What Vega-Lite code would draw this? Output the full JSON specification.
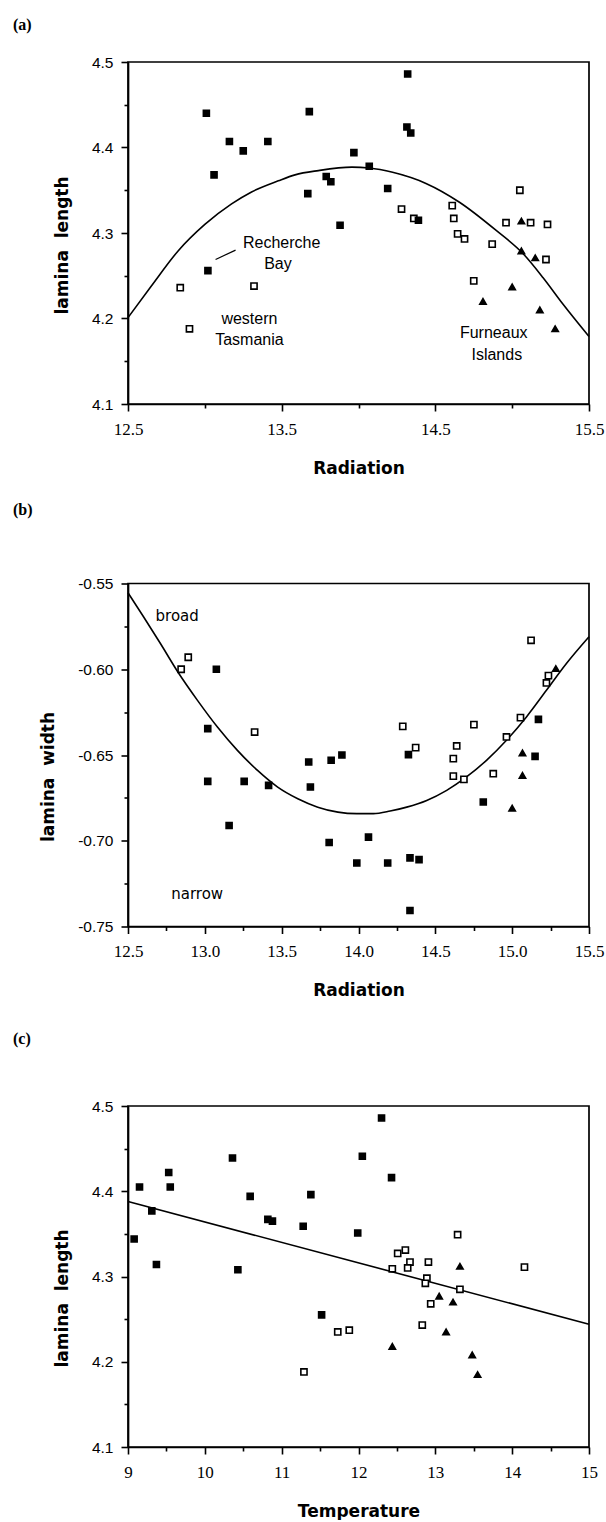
{
  "$schema": "https://vega.github.io/schema/vega-lite/v6.json",
  "background": "white",
  "padding": {"left": 12, "top": 16, "right": 0, "bottom": 0},
  "bounds": "flush",
  "spacing": 179.5,
  "config": {
    "view": {"stroke": "black", "strokeWidth": 1.7},
    "axis": {"grid": false, "ticks": true, "domainColor": "black", "domainWidth": 1.7, "tickColor": "#000000", "tickWidth": 1.6, "tickOpacity": 1, "labelColor": "black", "titleColor": "black", "labelOverlap": false, "labelBound": false, "labelFlush": false},
    "title": {"anchor": "start", "frame": "group", "dx": -115, "font": "Liberation Serif", "fontWeight": "bold", "fontSize": 16, "color": "black"},
    "point": {"opacity": 1},
    "text": {"font": "Liberation Sans", "fontSize": 16, "color": "black"}
  },
  "datasets": {
    "a_pts": [
      {"rad": 12.84, "len": 4.236, "g": "open"},
      {"rad": 12.90, "len": 4.188, "g": "open"},
      {"rad": 13.32, "len": 4.238, "g": "open"},
      {"rad": 14.28, "len": 4.328, "g": "open"},
      {"rad": 14.36, "len": 4.317, "g": "open"},
      {"rad": 14.61, "len": 4.332, "g": "open"},
      {"rad": 14.62, "len": 4.317, "g": "open"},
      {"rad": 14.645, "len": 4.299, "g": "open"},
      {"rad": 14.69, "len": 4.293, "g": "open"},
      {"rad": 14.75, "len": 4.244, "g": "open"},
      {"rad": 14.87, "len": 4.287, "g": "open"},
      {"rad": 14.96, "len": 4.312, "g": "open"},
      {"rad": 15.05, "len": 4.350, "g": "open"},
      {"rad": 15.12, "len": 4.312, "g": "open"},
      {"rad": 15.23, "len": 4.310, "g": "open"},
      {"rad": 15.22, "len": 4.269, "g": "open"},
      {"rad": 13.01, "len": 4.440, "g": "filled"},
      {"rad": 13.16, "len": 4.407, "g": "filled"},
      {"rad": 13.25, "len": 4.396, "g": "filled"},
      {"rad": 13.06, "len": 4.368, "g": "filled"},
      {"rad": 13.41, "len": 4.407, "g": "filled"},
      {"rad": 13.68, "len": 4.442, "g": "filled"},
      {"rad": 13.79, "len": 4.366, "g": "filled"},
      {"rad": 13.82, "len": 4.360, "g": "filled"},
      {"rad": 13.67, "len": 4.346, "g": "filled"},
      {"rad": 13.88, "len": 4.309, "g": "filled"},
      {"rad": 13.97, "len": 4.394, "g": "filled"},
      {"rad": 14.07, "len": 4.378, "g": "filled"},
      {"rad": 14.19, "len": 4.352, "g": "filled"},
      {"rad": 14.32, "len": 4.486, "g": "filled"},
      {"rad": 14.315, "len": 4.424, "g": "filled"},
      {"rad": 14.34, "len": 4.417, "g": "filled"},
      {"rad": 14.39, "len": 4.315, "g": "filled"},
      {"rad": 13.02, "len": 4.256, "g": "filled"},
      {"rad": 15.06, "len": 4.314, "g": "tri"},
      {"rad": 15.06, "len": 4.279, "g": "tri"},
      {"rad": 15.15, "len": 4.271, "g": "tri"},
      {"rad": 14.81, "len": 4.220, "g": "tri"},
      {"rad": 15.00, "len": 4.237, "g": "tri"},
      {"rad": 15.18, "len": 4.210, "g": "tri"},
      {"rad": 15.28, "len": 4.188, "g": "tri"}
    ],
    "a_curve": [
      {"rad": 12.5, "len": 4.201},
      {"rad": 12.652, "len": 4.238},
      {"rad": 12.826, "len": 4.279},
      {"rad": 13.0, "len": 4.310},
      {"rad": 13.174, "len": 4.334},
      {"rad": 13.304, "len": 4.348},
      {"rad": 13.478, "len": 4.361},
      {"rad": 13.587, "len": 4.368},
      {"rad": 13.739, "len": 4.373},
      {"rad": 13.957, "len": 4.377},
      {"rad": 14.070, "len": 4.376},
      {"rad": 14.222, "len": 4.371},
      {"rad": 14.439, "len": 4.358},
      {"rad": 14.657, "len": 4.336},
      {"rad": 14.896, "len": 4.303},
      {"rad": 15.070, "len": 4.276},
      {"rad": 15.200, "len": 4.248},
      {"rad": 15.330, "len": 4.217},
      {"rad": 15.5, "len": 4.179}
    ],
    "a_text": [
      {"rad": 13.50, "len": 4.288, "t": "Recherche"},
      {"rad": 13.476, "len": 4.264, "t": "Bay"},
      {"rad": 13.29, "len": 4.199, "t": "western"},
      {"rad": 13.29, "len": 4.175, "t": "Tasmania"},
      {"rad": 14.88, "len": 4.183, "t": "Furneaux"},
      {"rad": 14.90, "len": 4.157, "t": "Islands"}
    ],
    "a_leader": [
      {"rad": 13.07, "len": 4.269},
      {"rad": 13.20, "len": 4.280}
    ],
    "b_pts": [
      {"rad": 12.846, "wid": -0.600, "g": "open"},
      {"rad": 12.892, "wid": -0.593, "g": "open"},
      {"rad": 13.324, "wid": -0.6366, "g": "open"},
      {"rad": 14.288, "wid": -0.6333, "g": "open"},
      {"rad": 14.372, "wid": -0.6457, "g": "open"},
      {"rad": 14.639, "wid": -0.6447, "g": "open"},
      {"rad": 14.617, "wid": -0.6521, "g": "open"},
      {"rad": 14.617, "wid": -0.6623, "g": "open"},
      {"rad": 14.686, "wid": -0.6642, "g": "open"},
      {"rad": 14.751, "wid": -0.6323, "g": "open"},
      {"rad": 14.877, "wid": -0.6609, "g": "open"},
      {"rad": 14.963, "wid": -0.6395, "g": "open"},
      {"rad": 15.054, "wid": -0.6282, "g": "open"},
      {"rad": 15.123, "wid": -0.5831, "g": "open"},
      {"rad": 15.223, "wid": -0.608, "g": "open"},
      {"rad": 15.236, "wid": -0.6037, "g": "open"},
      {"rad": 13.075, "wid": -0.600, "g": "filled"},
      {"rad": 13.019, "wid": -0.6346, "g": "filled"},
      {"rad": 13.019, "wid": -0.6654, "g": "filled"},
      {"rad": 13.256, "wid": -0.6654, "g": "filled"},
      {"rad": 13.415, "wid": -0.6677, "g": "filled"},
      {"rad": 13.158, "wid": -0.6911, "g": "filled"},
      {"rad": 13.676, "wid": -0.6541, "g": "filled"},
      {"rad": 13.687, "wid": -0.6687, "g": "filled"},
      {"rad": 13.822, "wid": -0.6531, "g": "filled"},
      {"rad": 13.892, "wid": -0.650, "g": "filled"},
      {"rad": 13.809, "wid": -0.701, "g": "filled"},
      {"rad": 14.065, "wid": -0.6979, "g": "filled"},
      {"rad": 13.989, "wid": -0.713, "g": "filled"},
      {"rad": 14.19, "wid": -0.713, "g": "filled"},
      {"rad": 14.335, "wid": -0.710, "g": "filled"},
      {"rad": 14.394, "wid": -0.711, "g": "filled"},
      {"rad": 14.335, "wid": -0.7407, "g": "filled"},
      {"rad": 14.325, "wid": -0.6498, "g": "filled"},
      {"rad": 14.812, "wid": -0.6774, "g": "filled"},
      {"rad": 15.149, "wid": -0.6508, "g": "filled"},
      {"rad": 15.171, "wid": -0.6292, "g": "filled"},
      {"rad": 15.284, "wid": -0.5996, "g": "tri"},
      {"rad": 15.067, "wid": -0.6488, "g": "tri"},
      {"rad": 15.067, "wid": -0.6619, "g": "tri"},
      {"rad": 15.0, "wid": -0.681, "g": "tri"}
    ],
    "b_curve": [
      {"rad": 12.5, "wid": -0.5554},
      {"rad": 12.602, "wid": -0.5695},
      {"rad": 12.711, "wid": -0.585},
      {"rad": 12.831, "wid": -0.6025},
      {"rad": 12.951, "wid": -0.618},
      {"rad": 13.082, "wid": -0.6337},
      {"rad": 13.212, "wid": -0.6473},
      {"rad": 13.343, "wid": -0.659},
      {"rad": 13.474, "wid": -0.6687},
      {"rad": 13.605, "wid": -0.6755},
      {"rad": 13.735, "wid": -0.6804},
      {"rad": 13.866, "wid": -0.6833},
      {"rad": 13.989, "wid": -0.6842},
      {"rad": 14.097, "wid": -0.6842},
      {"rad": 14.206, "wid": -0.6827},
      {"rad": 14.314, "wid": -0.6804},
      {"rad": 14.444, "wid": -0.6765},
      {"rad": 14.574, "wid": -0.6706},
      {"rad": 14.703, "wid": -0.6628},
      {"rad": 14.833, "wid": -0.6531},
      {"rad": 14.963, "wid": -0.6414},
      {"rad": 15.093, "wid": -0.6278},
      {"rad": 15.223, "wid": -0.6123},
      {"rad": 15.353, "wid": -0.5967},
      {"rad": 15.5, "wid": -0.5811}
    ],
    "b_text": [
      {"rad": 12.82, "wid": -0.569, "t": "broad"},
      {"rad": 12.95, "wid": -0.731, "t": "narrow"}
    ],
    "c_pts": [
      {"temp": 11.29, "len": 4.188, "g": "open"},
      {"temp": 11.73, "len": 4.235, "g": "open"},
      {"temp": 11.88, "len": 4.237, "g": "open"},
      {"temp": 12.44, "len": 4.309, "g": "open"},
      {"temp": 12.51, "len": 4.327, "g": "open"},
      {"temp": 12.61, "len": 4.331, "g": "open"},
      {"temp": 12.67, "len": 4.317, "g": "open"},
      {"temp": 12.64, "len": 4.310, "g": "open"},
      {"temp": 12.91, "len": 4.317, "g": "open"},
      {"temp": 12.89, "len": 4.298, "g": "open"},
      {"temp": 12.87, "len": 4.292, "g": "open"},
      {"temp": 12.94, "len": 4.268, "g": "open"},
      {"temp": 12.83, "len": 4.243, "g": "open"},
      {"temp": 13.29, "len": 4.349, "g": "open"},
      {"temp": 13.32, "len": 4.285, "g": "open"},
      {"temp": 14.16, "len": 4.311, "g": "open"},
      {"temp": 9.08, "len": 4.344, "g": "filled"},
      {"temp": 9.15, "len": 4.405, "g": "filled"},
      {"temp": 9.31, "len": 4.377, "g": "filled"},
      {"temp": 9.37, "len": 4.314, "g": "filled"},
      {"temp": 9.53, "len": 4.422, "g": "filled"},
      {"temp": 9.55, "len": 4.405, "g": "filled"},
      {"temp": 10.36, "len": 4.439, "g": "filled"},
      {"temp": 10.43, "len": 4.308, "g": "filled"},
      {"temp": 10.59, "len": 4.394, "g": "filled"},
      {"temp": 10.82, "len": 4.367, "g": "filled"},
      {"temp": 10.88, "len": 4.365, "g": "filled"},
      {"temp": 11.28, "len": 4.359, "g": "filled"},
      {"temp": 11.38, "len": 4.396, "g": "filled"},
      {"temp": 11.52, "len": 4.255, "g": "filled"},
      {"temp": 11.99, "len": 4.351, "g": "filled"},
      {"temp": 12.05, "len": 4.441, "g": "filled"},
      {"temp": 12.30, "len": 4.486, "g": "filled"},
      {"temp": 12.43, "len": 4.416, "g": "filled"},
      {"temp": 13.32, "len": 4.312, "g": "tri"},
      {"temp": 13.05, "len": 4.277, "g": "tri"},
      {"temp": 13.23, "len": 4.270, "g": "tri"},
      {"temp": 13.14, "len": 4.235, "g": "tri"},
      {"temp": 12.44, "len": 4.218, "g": "tri"},
      {"temp": 13.48, "len": 4.208, "g": "tri"},
      {"temp": 13.55, "len": 4.185, "g": "tri"}
    ],
    "c_line": [
      {"temp": 9, "len": 4.388},
      {"temp": 15, "len": 4.244}
    ]
  },
  "vconcat": [
    {
      "title": {"text": "(a)", "offset": 22},
      "width": 461,
      "height": 342,
      "resolve": {"axis": {"x": "independent", "y": "independent"}},
      "layer": [
        {
          "data": {"name": "a_curve"},
          "mark": {"type": "line", "color": "black", "strokeWidth": 1.6, "interpolate": "monotone"},
          "encoding": {
            "x": {"field": "rad", "type": "quantitative", "scale": {"domain": [12.5, 15.5], "nice": false, "zero": false},
              "axis": {"orient": "bottom", "title": "Radiation", "values": [12.5, 13.5, 14.5, 15.5], "format": ".1f", "ticks": true, "tickSize": 7,
                "labelFont": "Liberation Serif", "labelFontSize": 17, "labelPadding": 10,
                "titleFont": "DejaVu Sans", "titleFontWeight": "bold", "titleFontSize": 17, "titlePadding": 23}},
            "y": {"field": "len", "type": "quantitative", "scale": {"domain": [4.1, 4.5], "nice": false, "zero": false},
              "axis": {"orient": "left", "title": "lamina\u00a0\u00a0length", "values": [4.1, 4.2, 4.3, 4.4, 4.5], "format": ".1f", "ticks": true, "tickSize": 7,
                "labelFont": "Liberation Sans", "labelFontSize": 15.5, "labelPadding": 8,
                "titleFont": "DejaVu Sans", "titleFontWeight": "bold", "titleFontSize": 17, "titlePadding": 20, "titleY": 183}}
          }
        },
        {
          "data": {"name": "a_pts"},
          "mark": {"type": "point", "filled": true, "stroke": "black", "strokeWidth": 1.6, "opacity": 1},
          "encoding": {
            "x": {"field": "rad", "type": "quantitative",
              "axis": {"orient": "bottom", "values": [13, 14, 15], "ticks": true, "tickSize": 4, "labels": false, "domain": false, "title": null}},
            "y": {"field": "len", "type": "quantitative",
              "axis": {"orient": "left", "values": [4.15, 4.25, 4.35, 4.45], "ticks": true, "tickSize": 4, "labels": false, "domain": false, "title": null}},
            "shape": {"field": "g", "type": "nominal", "scale": {"domain": ["filled", "open", "tri"], "range": ["square", "square", "triangle-up"]}, "legend": null},
            "fill": {"field": "g", "type": "nominal", "scale": {"domain": ["filled", "open", "tri"], "range": ["black", "white", "black"]}, "legend": null},
            "size": {"field": "g", "type": "nominal", "scale": {"domain": ["filled", "open", "tri"], "range": [36, 40, 42]}, "legend": null}
          }
        },
        {
          "data": {"name": "a_leader"},
          "mark": {"type": "line", "color": "black", "strokeWidth": 1.2},
          "encoding": {
            "x": {"field": "rad", "type": "quantitative", "axis": null},
            "y": {"field": "len", "type": "quantitative", "axis": null}
          }
        },
        {
          "data": {"name": "a_text"},
          "mark": {"type": "text", "align": "center", "baseline": "middle"},
          "encoding": {
            "x": {"field": "rad", "type": "quantitative", "axis": null},
            "y": {"field": "len", "type": "quantitative", "axis": null},
            "text": {"field": "t"}
          }
        }
      ]
    },
    {
      "title": {"text": "(b)", "offset": 59},
      "width": 461,
      "height": 343,
      "resolve": {"axis": {"x": "independent", "y": "independent"}},
      "layer": [
        {
          "data": {"name": "b_curve"},
          "mark": {"type": "line", "color": "black", "strokeWidth": 1.6, "interpolate": "monotone"},
          "encoding": {
            "x": {"field": "rad", "type": "quantitative", "scale": {"domain": [12.5, 15.5], "nice": false, "zero": false},
              "axis": {"orient": "bottom", "title": "Radiation", "values": [12.5, 13, 13.5, 14, 14.5, 15, 15.5], "format": ".1f", "ticks": true, "tickSize": 7,
                "labelFont": "Liberation Serif", "labelFontSize": 17, "labelPadding": 10,
                "titleFont": "DejaVu Sans", "titleFontWeight": "bold", "titleFontSize": 17, "titlePadding": 23}},
            "y": {"field": "wid", "type": "quantitative", "scale": {"domain": [-0.75, -0.55], "nice": false, "zero": false},
              "axis": {"orient": "left", "title": "lamina\u00a0\u00a0width", "values": [-0.75, -0.7, -0.65, -0.6, -0.55], "ticks": true, "tickSize": 7,
                "labelExpr": "replace(format(datum.value, '.2f'), '\u2212', '-')",
                "labelFont": "Liberation Sans", "labelFontSize": 15.5, "labelPadding": 8,
                "titleFont": "DejaVu Sans", "titleFontWeight": "bold", "titleFontSize": 17, "titlePadding": 20, "titleY": 193}}
          }
        },
        {
          "data": {"name": "b_pts"},
          "mark": {"type": "point", "filled": true, "stroke": "black", "strokeWidth": 1.6, "opacity": 1},
          "encoding": {
            "x": {"field": "rad", "type": "quantitative",
              "axis": {"orient": "bottom", "values": [12.75, 13.25, 13.75, 14.25, 14.75, 15.25], "ticks": true, "tickSize": 4, "labels": false, "domain": false, "title": null}},
            "y": {"field": "wid", "type": "quantitative",
              "axis": {"orient": "left", "values": [-0.725, -0.675, -0.625, -0.575], "ticks": true, "tickSize": 4, "labels": false, "domain": false, "title": null}},
            "shape": {"field": "g", "type": "nominal", "scale": {"domain": ["filled", "open", "tri"], "range": ["square", "square", "triangle-up"]}, "legend": null},
            "fill": {"field": "g", "type": "nominal", "scale": {"domain": ["filled", "open", "tri"], "range": ["black", "white", "black"]}, "legend": null},
            "size": {"field": "g", "type": "nominal", "scale": {"domain": ["filled", "open", "tri"], "range": [36, 40, 42]}, "legend": null}
          }
        },
        {
          "data": {"name": "b_text"},
          "mark": {"type": "text", "align": "center", "baseline": "middle", "font": "DejaVu Sans", "fontSize": 15},
          "encoding": {
            "x": {"field": "rad", "type": "quantitative", "axis": null},
            "y": {"field": "wid", "type": "quantitative", "axis": null},
            "text": {"field": "t"}
          }
        }
      ]
    },
    {
      "title": {"text": "(c)", "offset": 52},
      "width": 461,
      "height": 341,
      "resolve": {"axis": {"x": "independent", "y": "independent"}},
      "layer": [
        {
          "data": {"name": "c_line"},
          "mark": {"type": "line", "color": "black", "strokeWidth": 1.6},
          "encoding": {
            "x": {"field": "temp", "type": "quantitative", "scale": {"domain": [9, 15], "nice": false, "zero": false},
              "axis": {"orient": "bottom", "title": "Temperature", "values": [9, 10, 11, 12, 13, 14, 15], "format": "d", "ticks": true, "tickSize": 7,
                "labelFont": "Liberation Serif", "labelFontSize": 17, "labelPadding": 10,
                "titleFont": "DejaVu Sans", "titleFontWeight": "bold", "titleFontSize": 17, "titlePadding": 23}},
            "y": {"field": "len", "type": "quantitative", "scale": {"domain": [4.1, 4.5], "nice": false, "zero": false},
              "axis": {"orient": "left", "title": "lamina\u00a0\u00a0length", "values": [4.1, 4.2, 4.3, 4.4, 4.5], "format": ".1f", "ticks": true, "tickSize": 7,
                "labelFont": "Liberation Sans", "labelFontSize": 15.5, "labelPadding": 8,
                "titleFont": "DejaVu Sans", "titleFontWeight": "bold", "titleFontSize": 17, "titlePadding": 20, "titleY": 192}}
          }
        },
        {
          "data": {"name": "c_pts"},
          "mark": {"type": "point", "filled": true, "stroke": "black", "strokeWidth": 1.6, "opacity": 1},
          "encoding": {
            "x": {"field": "temp", "type": "quantitative",
              "axis": {"orient": "bottom", "values": [9.5, 10.5, 11.5, 12.5, 13.5, 14.5], "ticks": true, "tickSize": 4, "labels": false, "domain": false, "title": null}},
            "y": {"field": "len", "type": "quantitative",
              "axis": {"orient": "left", "values": [4.15, 4.25, 4.35, 4.45], "ticks": true, "tickSize": 4, "labels": false, "domain": false, "title": null}},
            "shape": {"field": "g", "type": "nominal", "scale": {"domain": ["filled", "open", "tri"], "range": ["square", "square", "triangle-up"]}, "legend": null},
            "fill": {"field": "g", "type": "nominal", "scale": {"domain": ["filled", "open", "tri"], "range": ["black", "white", "black"]}, "legend": null},
            "size": {"field": "g", "type": "nominal", "scale": {"domain": ["filled", "open", "tri"], "range": [36, 40, 42]}, "legend": null}
          }
        }
      ]
    }
  ]
}
